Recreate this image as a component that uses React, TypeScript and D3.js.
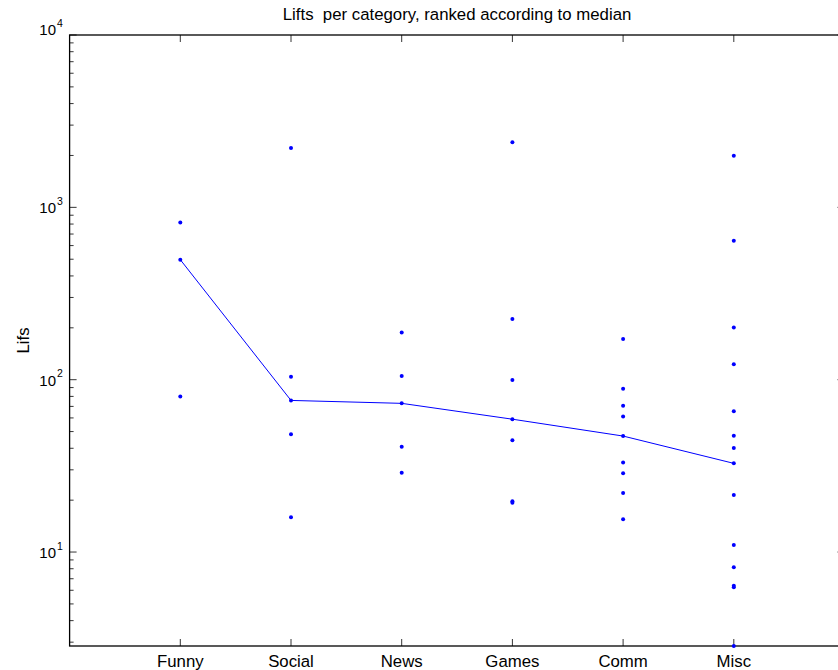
import React from "react";
import * as d3 from "d3";

// Categories in rank order (by median lift)
const categories = ["Funny", "Social", "News", "Games", "Comm", "Misc"];

// Individual lift values per category
const funnyLifts = [80, 497, 818];
const socialLifts = [15.9, 48.3, 75.8, 104, 2208];
const newsLifts = [28.8, 40.8, 72.9, 105, 188];
const gamesLifts = [19.3, 19.7, 44.6, 59.0, 99.5, 225, 2384];
const commLifts = [15.5, 22.0, 28.7, 33.1, 47.1, 61.2, 70.6, 88.5, 172];
const miscLifts = [2.85, 6.25, 6.37, 8.17, 11.0, 21.4, 32.7, 40.1, 47.3, 65.7, 123, 201, 640, 1995];

// Median lift per category (line vertices)
const medians = [497, 75.8, 72.9, 59.0, 47.1, 32.7];

const liftsByCategory = [funnyLifts, socialLifts, newsLifts, gamesLifts, commLifts, miscLifts];

// Axis ranges
const yDomain: [number, number] = [2.85, 10000];
const xDomain: [number, number] = [0, 7];
const decadeExponents = [1, 2, 3, 4];

const W = 838;
const H = 670;
const left = 69.6;
const right = 844.5;
const top = 35;
const bottom = 646;

const FONT = "'Liberation Sans', Arial, Helvetica, sans-serif";

export default function App() {
  const x = d3.scaleLinear().domain(xDomain).range([left, right]);
  const y = d3.scaleLog().domain(yDomain).range([bottom, top]);

  const minorTicks: number[] = [];
  for (let e = 0; e <= 3; e++) {
    for (let k = 2; k <= 9; k++) {
      const v = k * Math.pow(10, e);
      if (v >= yDomain[0] && v <= yDomain[1]) minorTicks.push(v);
    }
  }

  const line = d3
    .line<number>()
    .x((_, i) => x(i + 1))
    .y((d) => y(d));

  const points = liftsByCategory.flatMap((vals, i) => vals.map((v) => ({ i, v })));

  const major = 7;
  const minor = 4;
  const axisColor = "#000";

  return (
    <svg
      width={W}
      height={H}
      style={{ position: "absolute", left: 0, top: 0, background: "#fff" }}
      fontFamily={FONT}
    >
      <rect x={0} y={0} width={W} height={H} fill="#fff" />

      {/* title */}
      <text x={(left + right) / 2} y={20} textAnchor="middle" fontSize={16.8} fill="#000">
        {"Lifts\u00a0\u00a0per category, ranked according to median"}
      </text>

      {/* y axis label */}
      <text
        transform={`translate(28.5,${(top + bottom) / 2}) rotate(-90)`}
        textAnchor="middle"
        fontSize={16.8}
        fill="#000"
      >
        Lifs
      </text>

      {/* plot box */}
      <rect
        x={left}
        y={top}
        width={right - left}
        height={bottom - top}
        fill="none"
        stroke={axisColor}
        strokeWidth={1.3}
      />

      {/* y minor ticks, left and right */}
      {minorTicks.map((v) => (
        <g key={`m${v}`} stroke={axisColor} strokeWidth={0.8}>
          <line x1={left} x2={left + minor} y1={y(v)} y2={y(v)} />
          <line x1={right} x2={right - minor} y1={y(v)} y2={y(v)} />
        </g>
      ))}

      {/* y major ticks and labels */}
      {decadeExponents.map((e, idx) => {
        const yy = y(Math.pow(10, e));
        // the topmost label sits just above the box edge
        const ly = idx === decadeExponents.length - 1 ? yy - 6 : yy;
        return (
          <g key={`M${e}`}>
            <line x1={left} x2={left + major} y1={yy} y2={yy} stroke={axisColor} strokeWidth={0.8} />
            <line x1={right} x2={right - major} y1={yy} y2={yy} stroke={axisColor} strokeWidth={0.8} />
            <text x={56} y={ly + 6} textAnchor="end" fontSize={15} fill="#000">
              10
            </text>
            <text x={57} y={ly - 2.5} textAnchor="start" fontSize={10.5} fill="#000">
              {e}
            </text>
          </g>
        );
      })}

      {/* x ticks and category labels */}
      {categories.map((c, i) => {
        const xx = x(i + 1);
        return (
          <g key={c}>
            <line x1={xx} x2={xx} y1={bottom} y2={bottom - major} stroke={axisColor} strokeWidth={0.8} />
            <line x1={xx} x2={xx} y1={top} y2={top + major} stroke={axisColor} strokeWidth={0.8} />
            <text x={xx} y={667} textAnchor="middle" fontSize={16.8} fill="#000">
              {c}
            </text>
          </g>
        );
      })}

      {/* median line */}
      <path d={line(medians) ?? ""} fill="none" stroke="#0000ff" strokeWidth={1} />

      {/* individual values */}
      {points.map((p, k) => (
        <circle key={k} cx={x(p.i + 1)} cy={y(p.v)} r={2} fill="#0000ff" />
      ))}
    </svg>
  );
}
